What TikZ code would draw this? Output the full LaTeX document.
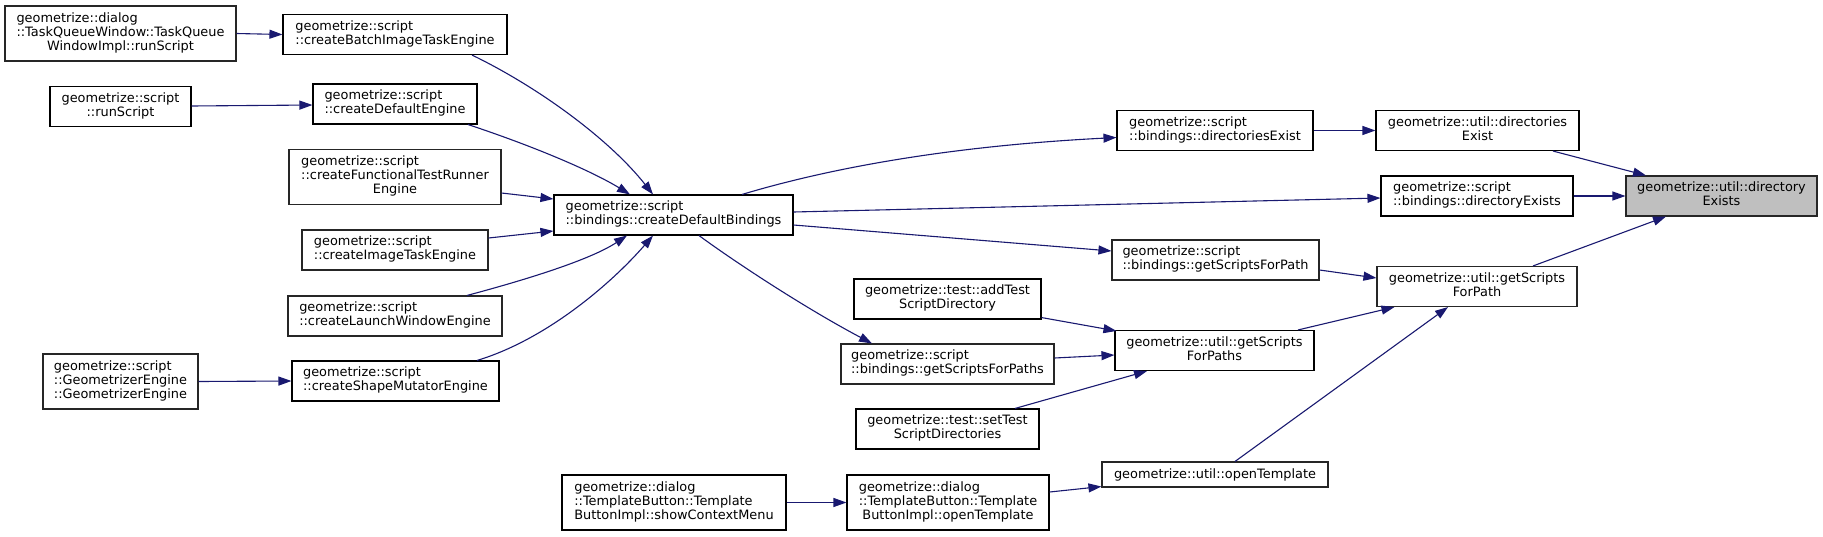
\documentclass[tikz,border=0pt]{standalone}
\usepackage{fontspec}
\setmainfont{DejaVu Sans}
\usetikzlibrary{arrows.meta,calc}
\definecolor{edgeblue}{HTML}{191970}
\definecolor{boxgray}{HTML}{BFBFBF}
\definecolor{borderdark}{HTML}{262626}
\newcommand{\cl}[1]{\multicolumn{1}{@{}c@{}}{#1}}
\newcommand{\LL}[1]{\begin{tabular}{@{}l@{}}#1\end{tabular}}
\newcommand{\CC}[1]{\begin{tabular}{@{}c@{}}#1\end{tabular}}
\tikzset{
  fn/.style 2 args={draw=black, line width=1.1pt, inner sep=0pt, fill=white,
    minimum width=#1pt, minimum height=#2pt,
    font=\fontsize{12.9}{14}\selectfont},
  fng/.style 2 args={fn={#1}{#2}, draw=borderdark},
  call/.style={draw=edgeblue, line width=1.1pt, -{Triangle[length=13pt,width=9pt]}, edgeblue}
}
\begin{document}
\begin{tikzpicture}[x=1pt,y=-1pt]
\useasboundingbox[fill=white] (0,0) rectangle (1823,536);
% left column
\node[fng={231}{55}] (tq) at (120.5,33.5) {\LL{geometrize::dialog\\::TaskQueueWindow::TaskQueue\\\cl{WindowImpl::runScript}}};
\node[fn={141}{40}] (rs) at (120.5,106.5) {\CC{geometrize::script\\::runScript}};
\node[fng={155}{55}] (ge) at (120.5,381.5) {\LL{geometrize::script\\::GeometrizerEngine\\::GeometrizerEngine}};
% second column
\node[fn={224}{40}] (cb) at (395,34.5) {\LL{geometrize::script\\::createBatchImageTaskEngine}};
\node[fn={164}{40}] (cde) at (395,104) {\LL{geometrize::script\\::createDefaultEngine}};
\node[fng={212}{55}] (cft) at (395,177) {\LL{geometrize::script\\::createFunctionalTestRunner\\\cl{Engine}}};
\node[fng={186}{40}] (cit) at (395,250) {\LL{geometrize::script\\::createImageTaskEngine}};
\node[fng={214}{40}] (clw) at (395,316) {\LL{geometrize::script\\::createLaunchWindowEngine}};
\node[fn={207}{40}] (csm) at (395.5,381) {\LL{geometrize::script\\::createShapeMutatorEngine}};
% third column
\node[fn={239}{40}] (cdb) at (673.5,215) {\LL{geometrize::script\\::bindings::createDefaultBindings}};
\node[fn={224}{55}] (scm) at (674,502.5) {\LL{geometrize::dialog\\::TemplateButton::Template\\\cl{ButtonImpl::showContextMenu}}};
% fourth column
\node[fn={187}{40}] (at) at (947.5,299) {\CC{geometrize::test::addTest\\ScriptDirectory}};
\node[fng={213}{40}] (bsp) at (947.5,364) {\LL{geometrize::script\\::bindings::getScriptsForPaths}};
\node[fn={183}{40}] (st) at (947.5,429) {\CC{geometrize::test::setTest\\ScriptDirectories}};
\node[fn={202}{55}] (tbo) at (948,502.5) {\LL{geometrize::dialog\\::TemplateButton::Template\\\cl{ButtonImpl::openTemplate}}};
% fifth column
\node[fn={196}{40}] (bde) at (1215,130.5) {\LL{geometrize::script\\::bindings::directoriesExist}};
\node[fng={207}{40}] (bsf) at (1215.5,260) {\LL{geometrize::script\\::bindings::getScriptsForPath}};
\node[fn={199}{40}] (usp) at (1214.5,350.5) {\CC{geometrize::util::getScripts\\ForPaths}};
\node[fng={226}{25}] (uot) at (1215,474.5) {geometrize::util::openTemplate};
% sixth column
\node[fn={203}{40}] (ude) at (1477.5,130.5) {\CC{geometrize::util::directories\\Exist}};
\node[fn={192}{40}] (bdx) at (1477,196) {\LL{geometrize::script\\::bindings::directoryExists}};
\node[fng={200}{40}] (usf) at (1477,286.5) {\CC{geometrize::util::getScripts\\ForPath}};
% target
\node[fng={191}{40}, fill=boxgray] (dx) at (1721.5,196) {\CC{geometrize::util::directory\\Exists}};

% edges
\draw[call] (tq.east) -- (cb.west);
\draw[call] ($(rs.east)+(0,-0.5)$) -- ($(cde.west)+(0,1)$);
\draw[call] ($(cb.south)+(77,0)$) .. controls (540,88) and (610,140) .. ($(cdb.north)+(-20.5,0)$);
\draw[call] ($(cde.south)+(73,0)$) .. controls (530,145) and (590,170) .. ($(cdb.north)+(-43.5,0)$);
\draw[call] ($(cft.east)+(0,16)$) -- ($(cdb.west)+(0,-16)$);
\draw[call] ($(cit.east)+(0,-12)$) -- ($(cdb.west)+(0,16)$);
\draw[call] ($(clw.north)+(72,0)$) .. controls (525,280) and (590,260) .. ($(cdb.south)+(-46.5,0)$);
\draw[call] ($(csm.north)+(81.5,0)$) .. controls (545,340) and (610,285) .. ($(cdb.south)+(-20.5,0)$);
\draw[call] (ge.east) -- (csm.west);
\draw[call] ($(cdb.north)+(68.5,0)$) .. controls (830,168) and (950,146) .. ($(bde.west)+(0,7)$);
\draw[call] ($(cdb.east)+(0,-3)$) -- ($(bdx.west)+(0,2)$);
\draw[call] ($(cdb.east)+(0,10)$) -- ($(bsf.west)+(0,-9)$);
\draw[call] ($(cdb.south)+(25.5,0)$) .. controls (735,262) and (805,308) .. ($(bsp.north)+(-75.5,0)$);
\draw[call] (bde.east) -- (ude.west);
\draw[call] ($(ude.south)+(75.5,0)$) -- ($(dx.north)+(-75.5,0)$);
\draw[call] (bdx.east) -- (dx.west);
\draw[call] ($(usf.north)+(56,0)$) -- ($(dx.south)+(-55.5,0)$);
\draw[call] ($(bsf.east)+(0,10)$) -- ($(usf.west)+(0,-8.5)$);
\draw[call] ($(at.south east)+(0,-2)$) -- ($(usp.north west)+(2,1)$);
\draw[call] ($(bsp.east)+(0,-6)$) -- ($(usp.west)+(0,4.5)$);
\draw[call] ($(st.north)+(67.5,0)$) -- ($(usp.south)+(-67.5,0)$);
\draw[call] ($(usp.north)+(83.5,0)$) -- ($(usf.south west)+(18,0)$);
\draw[call] ($(uot.north)+(20,0)$) -- ($(usf.south)+(-29,0)$);
\draw[call] (scm.east) -- (tbo.west);
\draw[call] ($(tbo.east)+(0,-10.5)$) -- ($(uot.south west)+(0,-1)$);
\end{tikzpicture}
\end{document}
